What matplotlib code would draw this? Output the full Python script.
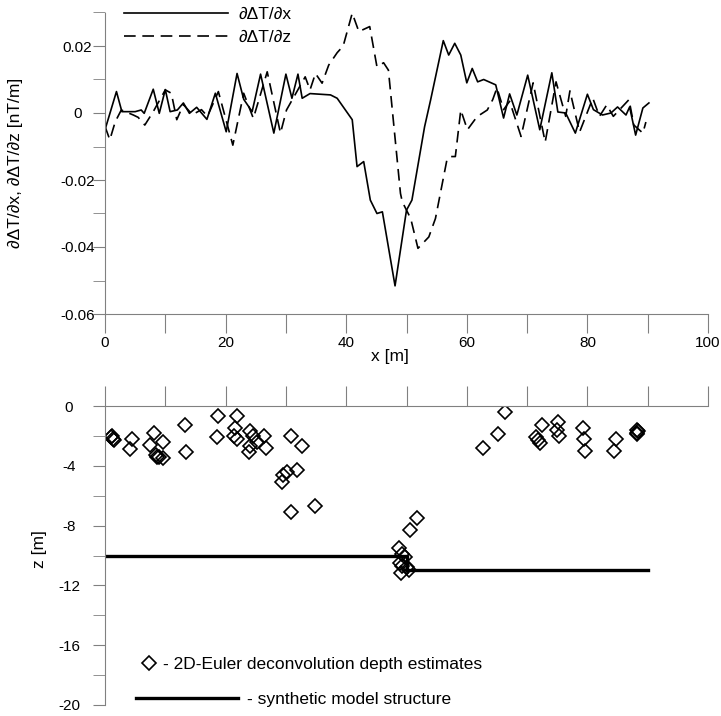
import matplotlib
matplotlib.use("Agg")
import matplotlib.pyplot as plt
from matplotlib.ticker import MultipleLocator, FuncFormatter

plt.rcParams['font.family'] = ['Liberation Sans', 'DejaVu Sans']
plt.rcParams['axes.unicode_minus'] = False

# dDeltaT/dx (solid)
x_dx = [0, 1.9, 2.8, 5, 6, 6.5, 8, 9, 10, 10.8, 12, 13, 14, 15.2, 16.9, 18.3, 20.1,
        21.9, 23, 24.4, 25.8, 28, 30, 31, 32, 32.7, 34, 37.4, 38.5, 41, 41.8, 42.9,
        44, 45.1, 46, 48.1, 50, 50.9, 53, 54, 56.1, 57, 58, 59, 60, 60.9, 61.8, 62.8,
        64.8, 66.1, 67.1, 68.3, 70.1, 72.1, 74.1, 75.1, 76.4, 78, 80, 81, 82.5,
        83.9, 85, 86.4, 87, 88, 89.2, 90.2]
dTdx = [-0.005, 0.0064, 0.0004, 0.0004, 0.0009, -0.0001, 0.0071, -0.0001, 0.007,
        0.0004, 0.0009, 0.003, -0.0001, 0.0017, -0.0019, 0.0059, -0.0056, 0.0118,
        0.0041, 0.0004, 0.0116, -0.006, 0.0116, 0.0044, 0.0116, 0.0044, 0.0058,
        0.0054, 0.0044, -0.002, -0.016, -0.0145, -0.026, -0.030, -0.0295, -0.0516,
        -0.029, -0.026, -0.0041, 0.0039, 0.0216, 0.0173, 0.0208, 0.0173, 0.009,
        0.0133, 0.0093, 0.010, 0.0084, -0.0015, 0.0057, -0.0006, 0.0113, -0.005,
        0.012, 0.0003, 0.0, -0.006, 0.0056, 0.001, -0.0006, 0.0, 0.0018, -0.0006,
        0.0018, -0.0066, 0.0015, 0.003]

# dDeltaT/dz (dashed)
x_dz = [0, 0.8, 1.7, 2.7, 4.7, 5.5, 6.6, 8, 10, 11, 11.9, 13, 14.5, 16, 17, 18.8,
        21.2, 23, 24.6, 26.9, 29.1, 30.1, 33.2, 34, 34.9, 36, 37.1, 38.5, 39.5, 41,
        42.1, 43.9, 45.1, 46.2, 47, 49, 49.3, 50.7, 51.9, 53.7, 54.8, 56.7, 57.2,
        58.1, 59, 60.1, 61.7, 63.4, 64.3, 65, 66.1, 67.1, 69, 71, 73, 74.8, 76.4,
        77.1, 78.7, 80.9, 82, 83.2, 84.3, 86.9, 87.7, 89.2, 89.7]
dTdz = [-0.004, -0.008, -0.0026, 0.0009, -0.0006, -0.0013, -0.0036, 0.0004, 0.0069,
        0.0059, -0.002, 0.0025, -0.0005, 0.001, -0.001, 0.0064, -0.0096, 0.0059,
        -0.0016, 0.0123, -0.006, 0.0009, 0.0108, 0.0069, 0.0118, 0.0089, 0.0143,
        0.018, 0.020, 0.0298, 0.0243, 0.0258, 0.0138, 0.015, 0.0128, -0.024,
        -0.0265, -0.0315, -0.0404, -0.037, -0.0315, -0.014, -0.013, -0.013, 0.0009,
        -0.005, -0.0011, 0.0009, 0.004, 0.0075, 0.001, 0.0035, -0.007, 0.009,
        -0.0087, 0.0093, -0.001, 0.0066, -0.0057, 0.0044, -0.001, 0.0024, -0.001,
        0.004, -0.0036, -0.006, -0.0027]

# 2D Euler depth estimates
euler_x = [1.0, 1.3, 1.5, 1.2, 4.4, 4.2, 8.1, 7.4, 9.7, 8.4, 8.7, 9.0, 9.7, 13.3,
           13.4, 18.8, 18.5, 21.9, 21.6, 21.4, 21.9, 24.0, 24.5, 24.1, 23.8, 25.2,
           26.4, 26.7, 30.9, 32.6, 30.1, 29.6, 29.3, 31.8, 30.9, 34.8, 51.7, 50.6,
           48.7, 49.3, 49.8, 48.9, 49.3, 50.4, 49.1, 50.0, 66.4, 65.1, 62.7, 72.4,
           71.4, 71.8, 72.2, 75.1, 75.0, 75.3, 79.2, 79.5, 79.6, 84.7, 84.4, 88.3,
           88.4, 88.2, 88.3]
euler_z = [-2.1, -2.2, -2.3, -2.0, -2.2, -2.9, -1.8, -2.6, -2.4, -3.3, -3.4, -3.4,
           -3.5, -1.3, -3.1, -0.67, -2.1, -0.67, -1.5, -2.0, -2.2, -1.7, -2.0, -2.7,
           -3.1, -2.4, -2.0, -2.8, -2.0, -2.7, -4.4, -4.6, -5.1, -4.3, -7.1, -6.7,
           -7.5, -8.3, -9.5, -9.9, -10.1, -10.5, -10.7, -11.0, -11.2, -10.8, -0.38,
           -1.9, -2.8, -1.3, -2.1, -2.3, -2.5, -1.1, -1.6, -2.0, -1.5, -2.2, -3.0,
           -2.2, -3.0, -1.6, -1.7, -1.8, -1.9]

# synthetic model
model_x = [0, 50, 50, 90]
model_z = [-10, -10, -11, -11]

W, H = 721, 716
fig = plt.figure(figsize=(W / 100, H / 100), dpi=100)
ax1 = fig.add_axes([105 / W, 1 - 314 / H, 603 / W, (314 - 12.5) / H])
ax2 = fig.add_axes([105 / W, 1 - 705 / H, 603 / W, (705 - 406) / H])

spine_col = '#808080'
fs = 11

# top panel
ax1.plot(x_dx, dTdx, color='black', lw=1.2, label='∂ΔT/∂x')
ax1.plot(x_dz, dTdz, color='black', lw=1.2, dashes=(7, 4), label='∂ΔT/∂z')
ax1.set_xlim(0, 100)
ax1.set_ylim(-0.06, 0.03)
for s in ['top', 'right']:
    ax1.spines[s].set_visible(False)
for s in ['left', 'bottom']:
    ax1.spines[s].set_color(spine_col)
ax1.yaxis.set_major_locator(MultipleLocator(0.02))
ax1.yaxis.set_minor_locator(MultipleLocator(0.01))
ax1.yaxis.set_major_formatter(FuncFormatter(lambda v, p: '0' if abs(v) < 1e-9 else f'{v:.2f}'))
ax1.xaxis.set_major_locator(MultipleLocator(10))
ax1.xaxis.set_major_formatter(FuncFormatter(lambda v, p: f'{v:.0f}' if round(v) % 20 == 0 else ''))
ax1.tick_params(axis='y', which='both', direction='out', length=9, color=spine_col,
                labelsize=fs, pad=11)
ax1.tick_params(axis='x', direction='out', length=13.5, color=spine_col, labelsize=fs, pad=2)
plt.setp(ax1.get_yticklabels(), ha='center')
ax1.set_ylabel('∂ΔT/∂x, ∂ΔT/∂z [nT/m]', fontsize=12.5)
ax1.yaxis.set_label_coords(-0.136, 0.5)
ax1.legend(loc='upper left', bbox_to_anchor=(0.006, 1.07), frameon=False, fontsize=12.5,
           handlelength=6.0, handletextpad=0.6, labelspacing=0.45)

fig.text(390 / W, 1 - 357 / H, 'x [m]', fontsize=12.5, ha='center', va='center')

# bottom panel
ax2.plot(model_x, model_z, color='black', lw=2.4, label='- synthetic model structure')
ax2.plot(euler_x, euler_z, ls='none', marker='D', ms=7.5, mfc='none', mec='black', mew=1.2,
         label='- 2D-Euler deconvolution depth estimates')
ax2.set_xlim(0, 100)
ax2.set_ylim(-20, 0)
for s in ['bottom', 'right']:
    ax2.spines[s].set_visible(False)
for s in ['left', 'top']:
    ax2.spines[s].set_color(spine_col)
ax2.xaxis.tick_top()
ax2.xaxis.set_major_locator(MultipleLocator(10))
ax2.tick_params(axis='x', direction='out', length=14.4, color=spine_col, labeltop=False)
ax2.yaxis.set_major_locator(MultipleLocator(4))
ax2.yaxis.set_minor_locator(MultipleLocator(2))
ax2.yaxis.set_major_formatter(FuncFormatter(lambda v, p: f'{v:.0f}'))
ax2.tick_params(axis='y', which='both', direction='out', length=9, color=spine_col,
                labelsize=fs, pad=17)
plt.setp(ax2.get_yticklabels(), ha='center')
ax2.set_ylabel('z [m]', fontsize=12.5)
ax2.yaxis.set_label_coords(-0.096, 0.52)

h, l = ax2.get_legend_handles_labels()
leg1 = ax2.legend([h[1]], [l[1]], loc='center left', bbox_to_anchor=(0.035, 0.135),
                  frameon=False, fontsize=12.5, handlelength=0.8, handletextpad=0.4)
ax2.add_artist(leg1)
ax2.legend([h[0]], [l[0]], loc='center left', bbox_to_anchor=(0.025, 0.018),
           frameon=False, fontsize=12.5, handlelength=5.9, handletextpad=0.5)

fig.savefig('out.png', dpi=100)
